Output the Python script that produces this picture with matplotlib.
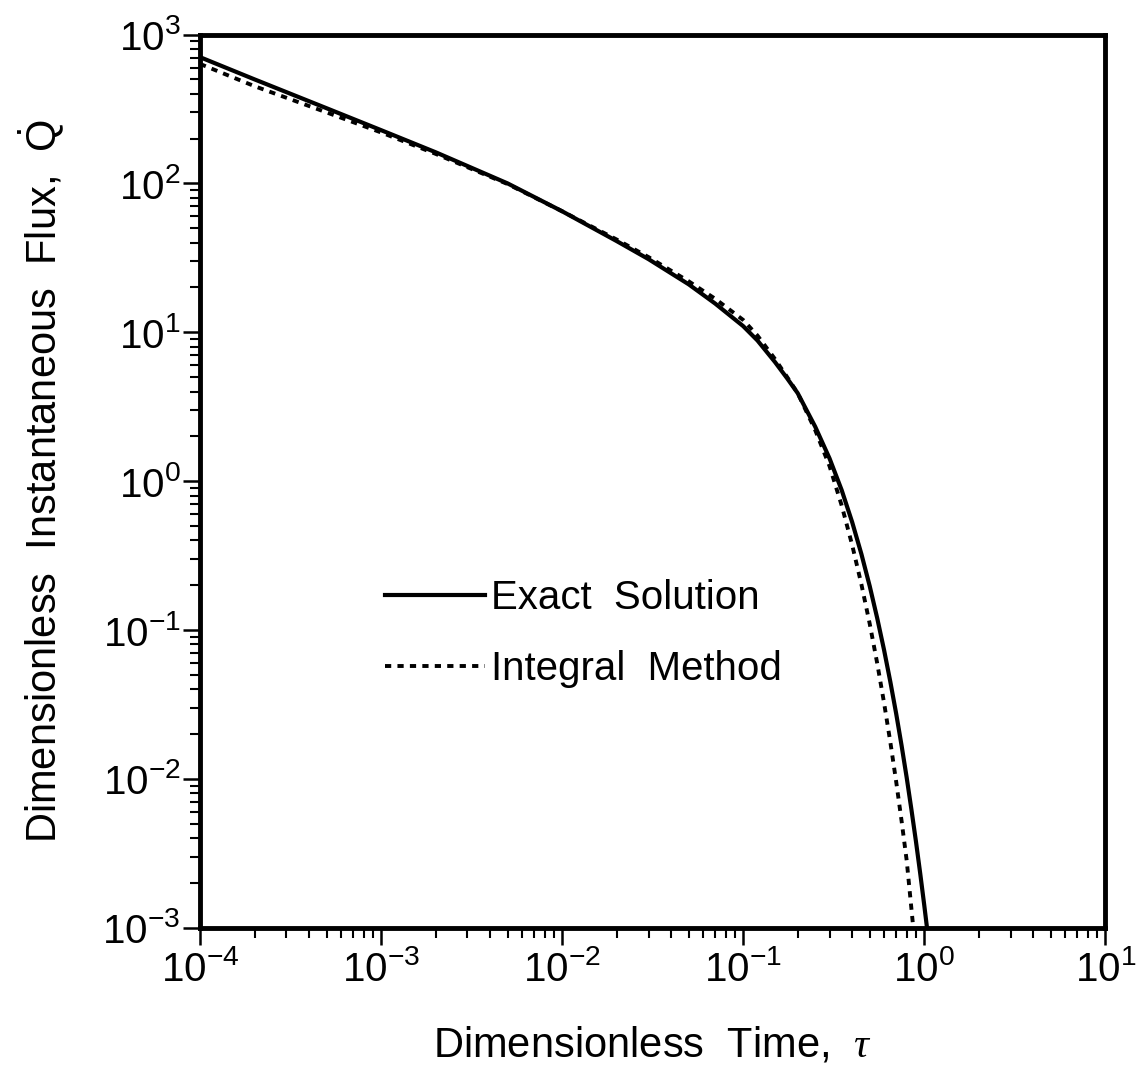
import matplotlib
matplotlib.use("Agg")
import matplotlib.pyplot as plt
from matplotlib.ticker import NullFormatter

plt.rcParams['font.family'] = ['Liberation Sans', 'DejaVu Sans']
plt.rcParams['mathtext.fontset'] = 'custom'
plt.rcParams['mathtext.rm'] = 'Liberation Sans'
plt.rcParams['mathtext.it'] = 'Liberation Serif:italic'

# exact series solution
tau_exact = [1e-4, 2e-4, 5e-4, 1e-3, 2e-3, 5e-3, 1e-2, 2e-2, 3e-2, 5e-2,
             0.07, 0.1, 0.12, 0.15, 0.175, 0.2, 0.25, 0.3, 0.35, 0.4, 0.45,
             0.5, 0.55, 0.6, 0.65, 0.7, 0.75, 0.8, 0.85, 0.9, 0.95, 1.0, 1.04]
q_exact = [705, 500, 320, 228, 162, 100, 65, 41, 31, 21,
           15.6, 11.0, 8.8, 6.3, 4.9, 3.9, 2.32, 1.42, 0.87, 0.53, 0.323,
           0.197, 0.120, 0.0734, 0.0448, 0.0274, 0.0167, 0.0102, 0.0062,
           0.0038, 0.00232, 0.00142, 0.00096]

# integral-method approximation
tau_integral = [1e-4, 2e-4, 5e-4, 1e-3, 2e-3, 5e-3, 1e-2, 2e-2, 3e-2, 5e-2,
                0.07, 0.1, 0.12, 0.15, 0.175, 0.2, 0.25, 0.3, 0.35, 0.4, 0.45,
                0.5, 0.55, 0.6, 0.65, 0.7, 0.75, 0.8, 0.87]
q_integral = [635, 450, 300, 220, 158, 99, 65, 42, 32, 22,
              16.8, 12.1, 9.5, 6.6, 5.0, 3.9, 2.2, 1.26, 0.686, 0.372, 0.202,
              0.110, 0.0597, 0.0324, 0.0176, 0.00957, 0.0052, 0.00283,
              0.00100]

fig = plt.figure(figsize=(11.43, 10.8), dpi=100)
ax = fig.add_axes([0.175, 0.141, 0.792, 0.827])

ax.plot(tau_exact, q_exact, color='black', lw=3.0, label='Exact  Solution')
ax.plot(tau_integral, q_integral, color='black', lw=2.8,
        ls=(0, (1.6, 1.6)), label='Integral  Method')

ax.set_xscale('log')
ax.set_yscale('log')
ax.set_xlim(1e-4, 1e1)
ax.set_ylim(1e-3, 1e3)
ax.xaxis.set_minor_formatter(NullFormatter())
ax.yaxis.set_minor_formatter(NullFormatter())

for side in ['left', 'bottom', 'top', 'right']:
    ax.spines[side].set_linewidth(3.5)

ax.tick_params(which='major', direction='out', length=12, width=1.8,
               labelsize=29, top=False, right=False)
ax.tick_params(which='minor', direction='out', length=7, width=1.5,
               top=False, right=False)
ax.tick_params(axis='x', which='major', pad=4)
ax.tick_params(axis='y', which='major', pad=2)

ax.set_xlabel(r'Dimensionless  Time,  $\tau$', fontsize=30, labelpad=26)
ax.set_ylabel(r'Dimensionless  Instantaneous  Flux,  $\dot{\mathrm{Q}}$',
              fontsize=30, labelpad=26)

ax.legend(loc='upper left', bbox_to_anchor=(0.204, 0.39), frameon=False,
          fontsize=29, handlelength=2.5, handletextpad=0.15,
          labelspacing=0.8, borderpad=0, borderaxespad=0)

fig.savefig('out.png', dpi=100)
